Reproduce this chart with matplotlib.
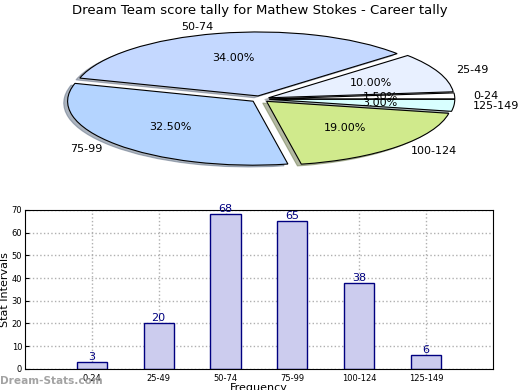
import matplotlib
matplotlib.use("Agg")
import matplotlib.pyplot as plt

categories = ["0-24", "25-49", "50-74", "75-99", "100-124", "125-149"]
counts = [3, 20, 68, 65, 38, 6]
pie_colors = ["#ffffff", "#e8f0ff", "#c4d8ff", "#b4d4ff", "#d0ea8c", "#d8ffff"]
y_ticks = [0, 10, 20, 30, 40, 50, 60, 70]

fig = plt.figure(figsize=(5.2, 3.9), dpi=100)
fig.text(0.5, 0.972, "Dream Team score tally for Mathew Stokes - Career tally",
         ha="center", va="center", fontsize=9.5)

# Pie chart (squashed ellipse)
axp = fig.add_axes([0.054, 0.541, 0.892, 0.41])
wedges, texts, autotexts = axp.pie(
    counts, labels=categories, colors=pie_colors, explode=[0.05] * len(counts),
    autopct="%.2f%%", shadow={"ox": -0.015, "oy": -0.02, "shade": 0.5},
    startangle=0, counterclock=True,
    wedgeprops=dict(edgecolor="black", linewidth=0.8),
    textprops=dict(fontsize=8))
axp.set_aspect("auto")
axp.set_xlim(-1.25, 1.25)
axp.set_ylim(-1.25, 1.25)

# Bar chart
axb = fig.add_axes([0.048, 0.054, 0.9, 0.408])
x = list(range(len(categories)))
axb.bar(x, counts, width=0.45, color="#ccccee", edgecolor="#000080",
        linewidth=1.0, zorder=2)
for xi, c in zip(x, counts):
    axb.text(xi, c, str(c), ha="center", va="bottom", color="#000080",
             fontsize=8, zorder=3)
axb.set_xlim(-1, 6)
axb.set_ylim(0, 70)
axb.set_xticks(x)
axb.set_xticklabels(categories, fontsize=6)
axb.set_yticks(y_ticks)
axb.tick_params(axis="y", labelsize=6, direction="in", length=3, pad=2)
axb.tick_params(axis="x", direction="in", length=3)
axb.grid(True, linestyle=":", color="#b0b0b0", linewidth=1.0, zorder=0)
axb.set_axisbelow(True)
axb.set_ylabel("Stat Intervals", fontsize=8)
axb.yaxis.set_label_coords(-0.031, 0.5)
axb.set_xlabel("Frequency", fontsize=8, labelpad=0)

fig.text(0.0, 0.023, "Dream-Stats.com", fontsize=7.6, color="#999999",
         fontweight="bold", ha="left", va="center", alpha=0.9)

fig.savefig("out.png", dpi=100)
